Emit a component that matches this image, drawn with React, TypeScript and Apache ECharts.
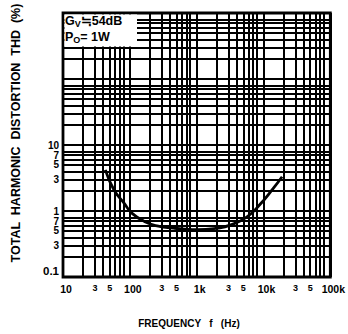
import React, { useEffect, useRef } from "react";
import * as echarts from "echarts";

// Frequency response (Hz, THD %)
const FREQ_HZ = [43, 58, 82, 107, 172, 267, 450, 665, 1020, 2040, 3170, 5600, 8700, 14000, 19000];
const THD_PCT = [4.2, 2.08, 1.32, 0.93, 0.68, 0.59, 0.55, 0.53, 0.52, 0.55, 0.61, 0.81, 1.23, 2.2, 3.3];

// Axis decades and grid multipliers
const X_DECADES = [10, 100, 1000, 10000, 100000];
const Y_DECADES = [0.1, 1, 10, 100, 1000];
const GRID_MULTS = [2, 3, 4, 5, 6, 7, 8];

// Tick labels
const X_LABEL_VALUES = [10, 30, 50, 100, 300, 500, 1000, 3000, 5000, 10000, 30000, 50000, 100000];
const X_LABEL_TEXT = ["10", "3", "5", "100", "3", "5", "1k", "3", "5", "10k", "3", "5", "100k"];
const Y_LABEL_VALUES = [0.1, 0.3, 0.5, 0.7, 1, 3, 5, 7, 10];
const Y_LABEL_TEXT = ["0.1", "3", "5", "7", "1", "3", "5", "7", "10"];

const FONT = "Liberation Sans";

function gridValues(decades: number[]) {
  const out: number[] = [];
  decades.forEach((d, i) => {
    out.push(d);
    if (i < decades.length - 1) GRID_MULTS.forEach((m) => out.push(+(d * m).toPrecision(6)));
  });
  return out;
}

function labelFor(values: number[], texts: string[], v: number) {
  let best = 0;
  let bd = Infinity;
  values.forEach((x, i) => {
    const d = Math.abs(Math.log10(x) - Math.log10(v));
    if (d < bd) {
      bd = d;
      best = i;
    }
  });
  return texts[best];
}

export default function App() {
  const ref = useRef<HTMLDivElement>(null);
  useEffect(() => {
    if (!ref.current) return;
    const chart = echarts.init(ref.current, null, { renderer: "svg" });
    const gridLine = { show: true, lineStyle: { color: "#000", width: 2 } };
    chart.setOption({
      animation: false,
      backgroundColor: "#fff",
      grid: {
        left: 63,
        top: 13,
        width: 271,
        height: 264,
        show: true,
        borderColor: "#000",
        borderWidth: 2.8,
        backgroundColor: "#fff",
      },
      xAxis: {
        type: "log",
        logBase: 10,
        min: 10,
        max: 100000,
        axisLine: { show: false },
        axisTick: { show: false, customValues: gridValues(X_DECADES) },
        splitLine: gridLine,
        axisLabel: {
          customValues: X_LABEL_VALUES,
          margin: 6,
          color: "#000",
          fontFamily: FONT,
          fontWeight: "bold",
          fontSize: 10,
          formatter: (v: number) => {
            const t = labelFor(X_LABEL_VALUES, X_LABEL_TEXT, v);
            return t.length === 1 ? "{m|" + t + "}" : "{d|" + t + "}";
          },
          rich: {
            m: { fontSize: 9, fontFamily: FONT, fontWeight: "bold", color: "#000" },
            d: { fontSize: 10.5, fontFamily: FONT, fontWeight: "bold", color: "#000", padding: [0, 0, 0, 6] },
          },
        },
      },
      yAxis: {
        type: "log",
        logBase: 10,
        min: 0.1,
        max: 1000,
        axisLine: { show: false },
        axisTick: { show: false, customValues: gridValues(Y_DECADES) },
        splitLine: gridLine,
        axisLabel: {
          customValues: Y_LABEL_VALUES,
          margin: 4,
          color: "#000",
          fontFamily: FONT,
          fontWeight: "bold",
          fontSize: 10,
          formatter: (v: number) => {
            const t = labelFor(Y_LABEL_VALUES, Y_LABEL_TEXT, v);
            return t === "0.1" ? "{b|" + t + "}" : t;
          },
          rich: {
            b: { fontSize: 11.5, fontFamily: FONT, fontWeight: "bold", color: "#000", padding: [0, 0, 12, 0] },
          },
        },
      },
      series: [
        {
          type: "line",
          data: FREQ_HZ.map((f, i) => [f, THD_PCT[i]]),
          smooth: true,
          showSymbol: false,
          lineStyle: { color: "#000", width: 2.8 },
          z: 5,
        },
      ],
      graphic: [
        {
          type: "rect",
          z: 20,
          shape: { x: 64.5, y: 14.5, width: 72.5, height: 32 },
          style: { fill: "#fff" },
        },
        {
          type: "text",
          z: 21,
          x: 65,
          y: 14,
          style: {
            text: "G{s|V}≒54dB",
            fill: "#000",
            font: "bold 12.5px " + FONT,
            rich: { s: { fontSize: 9, fontFamily: FONT, fontWeight: "bold", padding: [5, 0, 0, 0] } },
          },
        },
        {
          type: "text",
          z: 21,
          x: 65,
          y: 30,
          style: {
            text: "P{s|O}= 1W",
            fill: "#000",
            font: "bold 12.5px " + FONT,
            rich: { s: { fontSize: 9, fontFamily: FONT, fontWeight: "bold", padding: [5, 0, 0, 0] } },
          },
        },
        {
          type: "text",
          x: 16,
          y: 133,
          rotation: Math.PI / 2,
          style: {
            text: "TOTAL  HARMONIC  DISTORTION  THD  (%)",
            fill: "#000",
            font: "bold 12.5px " + FONT,
            align: "center",
            verticalAlign: "middle",
          },
        },
        {
          type: "text",
          x: 189,
          y: 323,
          style: {
            text: "FREQUENCY   f   (Hz)",
            fill: "#000",
            font: "bold 10px " + FONT,
            align: "center",
            verticalAlign: "middle",
          },
        },
      ],
    });
    return () => chart.dispose();
  }, []);
  return (
    <div
      ref={ref}
      style={{ position: "fixed", left: 0, top: 0, width: 348, height: 334, background: "#fff" }}
    />
  );
}
